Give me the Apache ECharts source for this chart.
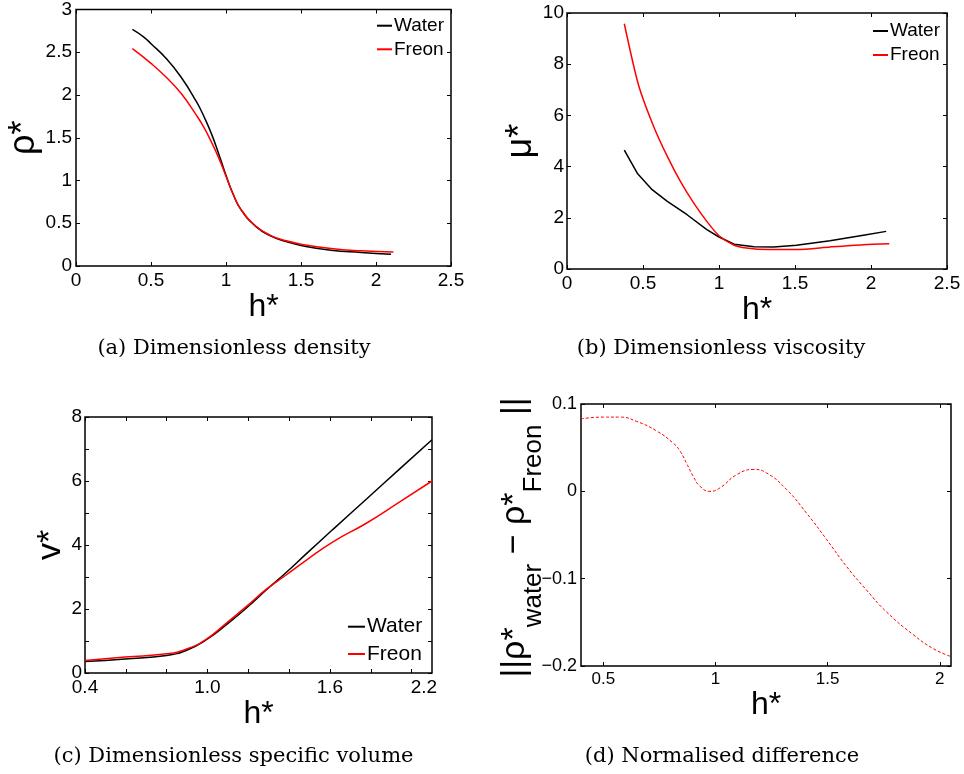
<!DOCTYPE html>
<html>
<head>
<meta charset="utf-8">
<script src="https://cdn.jsdelivr.net/npm/echarts@6/dist/echarts.min.js"></script>
<style>
html,body{margin:0;padding:0;background:#fff;}
#chart{width:964px;height:774px;}
</style>
</head>
<body>
<div id="chart"></div>
<script>
// ---------- (a) Dimensionless density ----------
const aH_water   = [0.376, 0.45, 0.5, 0.6, 0.7, 0.8, 0.85, 0.9, 0.95, 1.0, 1.05, 1.1, 1.2, 1.3, 1.4, 1.5, 1.7, 1.9, 2.1];
const aRho_water = [2.767, 2.68, 2.60, 2.43, 2.21, 1.93, 1.76, 1.56, 1.32, 1.06, 0.83, 0.66, 0.46, 0.35, 0.285, 0.24, 0.185, 0.158, 0.136];
const aH_freon   = [0.376, 0.5, 0.6, 0.7, 0.8, 0.85, 0.9, 0.95, 1.0, 1.05, 1.1, 1.2, 1.3, 1.4, 1.5, 1.7, 1.9, 2.116];
const aRho_freon = [2.542, 2.37, 2.21, 2.02, 1.77, 1.63, 1.46, 1.27, 1.05, 0.83, 0.66, 0.465, 0.355, 0.295, 0.255, 0.205, 0.178, 0.163];

// ---------- (b) Dimensionless viscosity ----------
const bH_water  = [0.377, 0.465, 0.56, 0.66, 0.79, 0.92, 1.0, 1.1, 1.23, 1.36, 1.51, 1.73, 1.95, 2.10];
const bMu_water = [4.64, 3.72, 3.10, 2.64, 2.12, 1.54, 1.25, 0.97, 0.87, 0.86, 0.93, 1.10, 1.32, 1.47];
const bH_freon  = [0.377, 0.47, 0.57, 0.66, 0.746, 0.833, 0.92, 1.0, 1.10, 1.18, 1.32, 1.51, 1.73, 1.95, 2.12];
const bMu_freon = [9.58, 7.20, 5.57, 4.40, 3.42, 2.58, 1.86, 1.30, 0.93, 0.82, 0.76, 0.76, 0.86, 0.95, 0.99];

// ---------- (c) Dimensionless specific volume ----------
const cH       = [0.40, 0.596, 0.80, 0.898, 0.995, 1.093, 1.191, 1.289, 1.387, 1.485, 1.615, 1.778, 1.942, 2.10];
const cV_water = [0.36, 0.44, 0.55, 0.71, 1.04, 1.51, 2.03, 2.60, 3.15, 3.73, 4.49, 5.43, 6.38, 7.29];
const cV_freon = [0.39, 0.50, 0.60, 0.75, 1.06, 1.56, 2.08, 2.62, 3.07, 3.53, 4.10, 4.68, 5.35, 6.00];

// ---------- (d) Normalised difference ----------
const dH    = [0.40, 0.50, 0.574, 0.649, 0.738, 0.812, 0.842, 0.871, 0.901, 0.931, 0.975, 1.02, 1.094, 1.168, 1.228, 1.317, 1.406, 1.495, 1.584, 1.673, 1.762, 1.881, 1.97, 2.048];
const dDiff = [0.083, 0.085, 0.085, 0.080, 0.069, 0.055, 0.046, 0.032, 0.017, 0.0057, 0.0, 0.004, 0.019, 0.025, 0.021, 0.002, -0.025, -0.055, -0.086, -0.113, -0.138, -0.164, -0.180, -0.189];

// ---------- tick labels ----------
const cXTickValues  = [0.4, 0.6, 0.8, 1.0, 1.2, 1.4, 1.6, 1.8, 2.0];
const cXLabelValues = [0.4, 1.0, 1.6, 2.06];
const cXLabelTexts  = ['0.4', '1.0', '1.6', '2.2'];
const cYTickValues  = [0, 1, 2, 3, 4, 5, 6, 7, 8];
const cYLabelValues = [0, 2, 4, 6, 8];
const dXTickValues  = [0.5, 1, 1.5, 2];

const captions = ['(a) Dimensionless density', '(b) Dimensionless viscosity', '(c) Dimensionless specific volume', '(d) Normalised difference'];
const legendNames = ['Water', 'Freon'];
// (d) y-axis title pieces: [text, isSubscript]
const dTitleParts = [['||\u03c1*', false], ['water', true], [' \u2212 \u03c1*', false], ['Freon', true], [' ||', false]];

const SANS = 'Liberation Sans';
const SERIF = 'DejaVu Serif';
const zip = (xs, ys) => xs.map((x, i) => [x, ys[i]]);

const grids = [
  {left: 76,  top: 8,   width: 375, height: 258},
  {left: 567, top: 13,  width: 380, height: 256},
  {left: 85,  top: 417, width: 347, height: 256},
  {left: 581, top: 404, width: 370, height: 262}
].map(g => Object.assign(g, {show: true, borderColor: '#000', borderWidth: 1.5, backgroundColor: 'transparent'}));

function tick() { return {show: true, inside: true, length: 4, lineStyle: {color: '#000', width: 1}}; }

function axisPair(kind, gi, cfg) {
  const base = {
    type: 'value', gridIndex: gi, min: cfg.min, max: cfg.max,
    axisLine: {show: false, onZero: false}, splitLine: {show: false}, minorTick: {show: false}
  };
  if (cfg.interval != null) base.interval = cfg.interval;
  const main = Object.assign({}, base, {
    position: kind === 'x' ? 'bottom' : 'left',
    axisTick: Object.assign(tick(), cfg.tickValues ? {customValues: cfg.tickValues} : {}),
    axisLabel: Object.assign({
      show: true, color: '#000', fontFamily: SANS, fontSize: cfg.fontSize || 19, margin: cfg.margin || 5,
      hideOverlap: false
    }, cfg.labelValues ? {customValues: cfg.labelValues} : {}, cfg.formatter ? {formatter: cfg.formatter} : {}),
    name: cfg.name || '', nameLocation: 'middle', nameGap: cfg.nameGap,
    nameRotate: kind === 'y' ? 90 : 0,
    nameTextStyle: {fontFamily: SANS, fontSize: cfg.nameSize || 32, color: '#000'}
  });
  const sec = Object.assign({}, base, {
    position: kind === 'x' ? 'top' : 'right',
    axisTick: Object.assign(tick(), cfg.tickValues ? {customValues: cfg.tickValues} : {}),
    axisLabel: {show: false}
  });
  return [main, sec];
}

const fmtSigned = v => {
  const r = Math.round(v * 10) / 10;
  if (r === 0) return '0';
  return r < 0 ? '\u2212' + Math.abs(r) : String(r);
};
const fmtC = v => {
  for (let i = 0; i < cXLabelValues.length; i++) if (Math.abs(cXLabelValues[i] - v) < 1e-6) return cXLabelTexts[i];
  return '';
};

const xAxes = [].concat(
  axisPair('x', 0, {min: 0, max: 2.5, interval: 0.5, name: 'h*', nameGap: 20}),
  axisPair('x', 1, {min: 0, max: 2.5, interval: 0.5, name: 'h*', nameGap: 21}),
  axisPair('x', 2, {min: 0.4, max: 2.1, tickValues: cXTickValues, labelValues: cXLabelValues, formatter: fmtC, name: 'h*', nameGap: 13, margin: 5}),
  axisPair('x', 3, {min: 0.4, max: 2.05, tickValues: dXTickValues, labelValues: dXTickValues, name: 'h*', nameGap: 20, fontSize: 17})
);

const yAxes = [].concat(
  axisPair('y', 0, {min: 0, max: 3, interval: 0.5, name: '\u03c1*', nameGap: 33, margin: 4, nameSize: 36}),
  axisPair('y', 1, {min: 0, max: 10, interval: 2, name: '\u03bc*', nameGap: 27, margin: 3, nameSize: 36}),
  axisPair('y', 2, {min: 0, max: 8, tickValues: cYTickValues, labelValues: cYLabelValues, name: 'v*', nameGap: 12, margin: 3, nameSize: 34}),
  axisPair('y', 3, {min: -0.2, max: 0.1, interval: 0.1, formatter: fmtSigned, margin: 4, fontSize: 18})
);

function lineSeries(name, gi, data, color, smooth) {
  return {
    type: 'line', name: name, xAxisIndex: 2 * gi, yAxisIndex: 2 * gi, data: data,
    smooth: smooth, symbol: 'none', showSymbol: false,
    lineStyle: {color: color, width: 1.5}, itemStyle: {color: color}, emphasis: {disabled: true}
  };
}

const series = [
  lineSeries('Water', 0, zip(aH_water, aRho_water), '#000', true),
  lineSeries('Freon', 0, zip(aH_freon, aRho_freon), '#ff0000', true),
  lineSeries('Water', 1, zip(bH_water, bMu_water), '#000', false),
  lineSeries('Freon', 1, zip(bH_freon, bMu_freon), '#ff0000', 0.25),
  lineSeries('Water', 2, zip(cH, cV_water), '#000', true),
  lineSeries('Freon', 2, zip(cH, cV_freon), '#ff0000', true),
  {
    type: 'line', name: 'diff', xAxisIndex: 6, yAxisIndex: 6, data: zip(dH, dDiff),
    smooth: true, symbol: 'none', showSymbol: false,
    lineStyle: {color: '#ff0000', width: 1, type: [3, 2]}, emphasis: {disabled: true}
  }
];

function legendAt(left, top, fs, lh, gap, iw) {
  return {
    data: legendNames, left: left, top: top, orient: 'vertical', padding: 0,
    icon: 'rect', itemWidth: iw, itemHeight: 2, itemGap: gap, selectedMode: false,
    textStyle: {fontFamily: SANS, fontSize: fs, lineHeight: lh, color: '#000', padding: [0, 0, 0, -3]}
  };
}

const captionPos = [[234, 349], [721, 349], [233.5, 757], [722, 757]];
const graphic = captions.map((t, i) => ({
  type: 'text', x: captionPos[i][0], y: captionPos[i][1], silent: true,
  style: {text: t, fill: '#000', font: '21px "' + SERIF + '"', align: 'center', verticalAlign: 'middle',
          textAlign: 'center', textVerticalAlign: 'middle'}
}));

// (d) rotated y-axis title with subscripts, laid out piece by piece
(function () {
  const MAIN = 34, SUB = 26, DROP = 19;
  const mctx = document.createElement('canvas').getContext('2d');
  const fontOf = fs => fs + 'px "' + SANS + '"';
  const widths = dTitleParts.map(p => { mctx.font = fontOf(p[1] ? SUB : MAIN); return mctx.measureText(p[0]).width; });
  const total = widths.reduce((a, b) => a + b, 0);
  let pos = -total / 2;
  const children = dTitleParts.map((p, i) => {
    const el = {
      type: 'text', x: pos, y: p[1] ? DROP : 0, silent: true,
      style: {text: p[0], fill: '#000', font: fontOf(p[1] ? SUB : MAIN), align: 'left', verticalAlign: 'middle',
              textAlign: 'left', textVerticalAlign: 'middle'}
    };
    pos += widths[i];
    return el;
  });
  graphic.push({type: 'group', x: 515, y: 537.5, rotation: Math.PI / 2, silent: true, children: children});
})();

const chart = echarts.init(document.getElementById('chart'), null, {renderer: 'canvas'});
chart.setOption({
  animation: false,
  backgroundColor: '#fff',
  grid: grids,
  xAxis: xAxes,
  yAxis: yAxes,
  legend: [
    legendAt(377, 15.7, 19, 20, 3.6, 15),
    legendAt(873, 21, 19, 20, 4, 15),
    legendAt(348, 615.7, 21, 22, 5.3, 17)
  ],
  series: series,
  graphic: graphic
});
</script>
</body>
</html>
